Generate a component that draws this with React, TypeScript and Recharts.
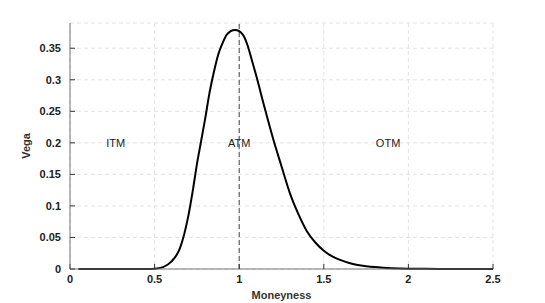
import React from 'react';
import {
  LineChart, Line, XAxis, YAxis, CartesianGrid, ReferenceLine, ReferenceDot,
} from 'recharts';

const moneyness = [
  0.05, 0.1, 0.15, 0.2, 0.25, 0.3, 0.35, 0.4, 0.45, 0.5, 0.55, 0.6, 0.65, 0.7,
  0.725, 0.75, 0.775, 0.8, 0.825, 0.85, 0.875, 0.9, 0.925, 0.95, 0.975, 1.0,
  1.025, 1.05, 1.075, 1.1, 1.15, 1.2, 1.25, 1.3, 1.35, 1.4, 1.45, 1.5, 1.55,
  1.6, 1.65, 1.7, 1.75, 1.8, 1.85, 1.9, 1.95, 2.0, 2.1, 2.2, 2.3, 2.4, 2.5,
];
const vega = [
  0, 0, 0, 0, 0, 0, 0, 0, 0.0001, 0.0005, 0.003, 0.012, 0.033, 0.085,
  0.123, 0.166, 0.203, 0.240, 0.280, 0.312, 0.339, 0.357, 0.371, 0.377, 0.379, 0.377,
  0.370, 0.354, 0.331, 0.307, 0.256, 0.207, 0.163, 0.120, 0.087, 0.060, 0.042, 0.029, 0.020,
  0.014, 0.0095, 0.0065, 0.0045, 0.003, 0.002, 0.0013, 0.0008, 0.0005, 0.0002, 0.0001, 0, 0, 0,
];
const xTicks = [0, 0.5, 1, 1.5, 2, 2.5];
const yTicks = [0, 0.05, 0.1, 0.15, 0.2, 0.25, 0.3, 0.35];
const regionLabels = ['ITM', 'ATM', 'OTM'];
const regionX = [0.27, 1.0, 1.88];
const regionY = 0.2;

const data = moneyness.map((m, i) => ({ m, v: vega[i] }));

const FONT = '"Liberation Sans", Arial, Helvetica, sans-serif';
const tickStyle = { fontFamily: FONT, fontSize: 11, fontWeight: 700, fill: '#222' };

export default function App() {
  return (
    <div style={{ position: 'absolute', left: 0, top: 0, width: 545, height: 303, background: '#fff' }}>
      <LineChart width={545} height={303} data={data} margin={{ top: 23, right: 52, left: 0, bottom: 0 }}>
        <CartesianGrid stroke="#e3e3e3" strokeDasharray="4 3" />
        <XAxis
          dataKey="m"
          type="number"
          domain={[0, 2.5]}
          ticks={xTicks}
          tickFormatter={(v: number) => String(v)}
          height={34}
          tickSize={-5}
          tickMargin={11}
          stroke="#777"
          tickLine={{ stroke: '#333' }}
          tick={tickStyle}
          label={{ value: 'Moneyness', position: 'insideBottom', offset: 4, style: { ...tickStyle, fill: '#333' } }}
        />
        <XAxis
          xAxisId="top"
          orientation="top"
          type="number"
          domain={[0, 2.5]}
          ticks={xTicks}
          height={0}
          tickSize={-5}
          tick={false}
          stroke="#777"
          tickLine={{ stroke: '#333' }}
        />
        <YAxis
          type="number"
          domain={[0, 0.39]}
          ticks={yTicks}
          tickFormatter={(v: number) => String(v)}
          width={70}
          tickSize={-5}
          tickMargin={14}
          stroke="#777"
          tickLine={{ stroke: '#333' }}
          tick={tickStyle}
          label={{ value: 'Vega', angle: -90, position: 'insideLeft', offset: 26, style: { ...tickStyle, fill: '#333', textAnchor: 'middle' } }}
        />
        <YAxis
          yAxisId="right"
          orientation="right"
          type="number"
          domain={[0, 0.39]}
          ticks={yTicks}
          width={0}
          tickSize={-5}
          tick={false}
          stroke="#777"
          tickLine={{ stroke: '#333' }}
        />
        <ReferenceLine x={1} stroke="#444" strokeDasharray="5 3" strokeWidth={1} />
        {regionLabels.map((t, i) => (
          <ReferenceDot
            key={t}
            x={regionX[i]}
            y={regionY}
            r={0}
            stroke="none"
            fill="none"
            label={{ value: t, position: 'center', style: { fontFamily: FONT, fontSize: 11, fill: '#222' } }}
          />
        ))}
        <Line
          type="monotone"
          dataKey="v"
          stroke="#000"
          strokeWidth={2}
          dot={false}
          isAnimationActive={false}
        />
      </LineChart>
    </div>
  );
}
